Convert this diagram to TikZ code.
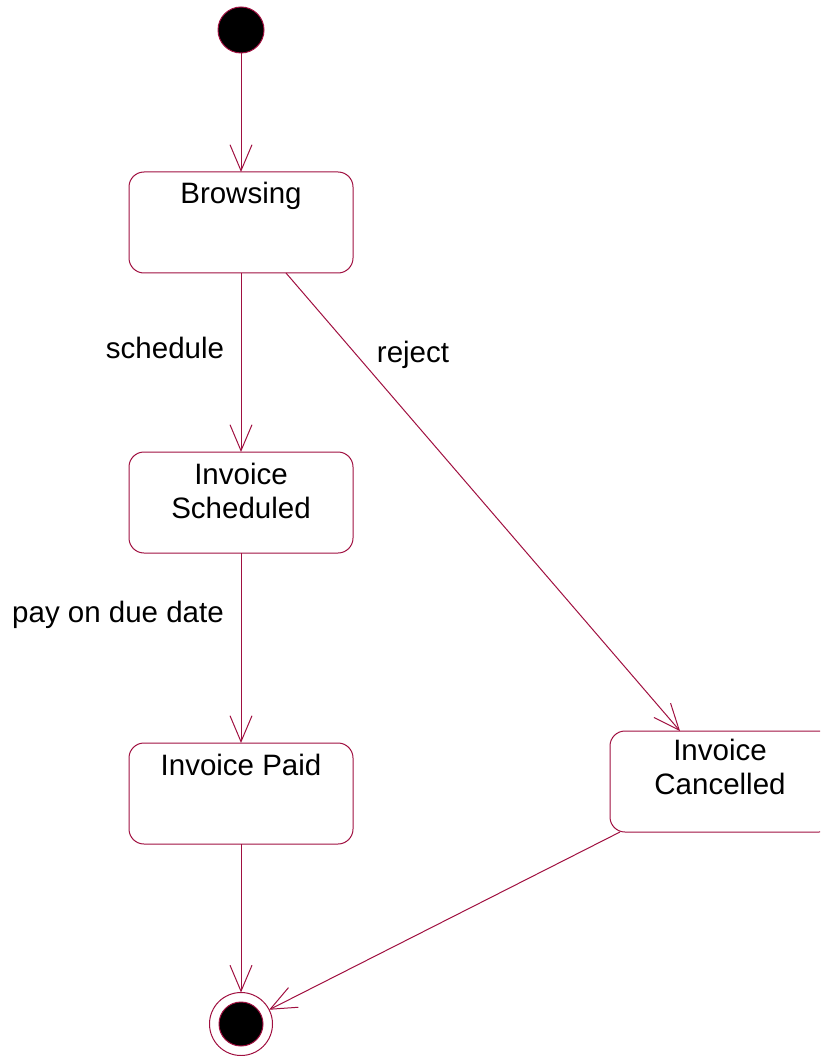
\documentclass[tikz,border=0pt]{standalone}
\usepackage{fontspec}
\setmainfont{Liberation Sans}
\usetikzlibrary{arrows.meta}
\definecolor{umlred}{RGB}{160,16,64}
\tikzset{
  stbox/.style={draw=umlred, line width=1pt, rounded corners=15pt, minimum width=224pt, minimum height=101pt, inner sep=0pt, outer sep=0pt},
  sttext/.style={font=\fontsize{29.5}{34}\selectfont, align=center, inner sep=0pt, anchor=north, text=black},
  lbl/.style={font=\fontsize{29.5}{34}\selectfont, inner sep=0pt, anchor=base, text=black},
  trans/.style={draw=umlred, line width=1pt, -{Straight Barb[length=26pt,width=22pt,line width=1pt]}},
}
\begin{document}
\begin{tikzpicture}[x=1pt,y=-1pt]
\clip (0,0) rectangle (820,1056);
\useasboundingbox (0,0) rectangle (820,1056);
% start
\node[circle, draw=umlred, fill=black, line width=1pt, minimum size=46pt, inner sep=0pt, outer sep=0pt] (s) at (241,30) {};
% states
\node[stbox] (b) at (241,222.5) {};
\node[sttext] (bt) at ([yshift=-10pt]b.north) {Browsing};
\node[stbox] (sc) at (241,502.5) {};
\node[sttext] (sct) at ([yshift=-11pt]sc.north) {Invoice\\Scheduled};
\node[stbox] (p) at (241,793.5) {};
\node[sttext] (pt) at ([yshift=-11pt]p.north) {Invoice Paid};
\node[stbox] (c) at (722,781.5) {};
\node[sttext] (ct) at ([xshift=-2pt,yshift=-8pt]c.north) {Invoice\\Cancelled};
% end
\node[circle, draw=umlred, line width=1pt, minimum size=63pt, inner sep=0pt, outer sep=0pt] (e) at (241,1024) {};
\node[circle, draw=umlred, fill=black, line width=1pt, minimum size=44pt, inner sep=0pt] (ei) at (e.center) {};
% transitions
\draw[trans] (s) -- (b);
\draw[trans] (b) -- (sc);
\draw[trans] (sc) -- (p);
\draw[trans] (p) -- (e);
\draw[trans] ([xshift=45pt]b.south) -- ([xshift=-42pt]c.north);
\draw[trans] ([xshift=10pt]c.south west) -- (e);
% labels
\node[lbl] (l1) at (165,358) {schedule};
\node[lbl] (l2) at (413,362) {reject};
\node[lbl] (l3) at (118,622) {pay on due date};
\end{tikzpicture}
\end{document}
